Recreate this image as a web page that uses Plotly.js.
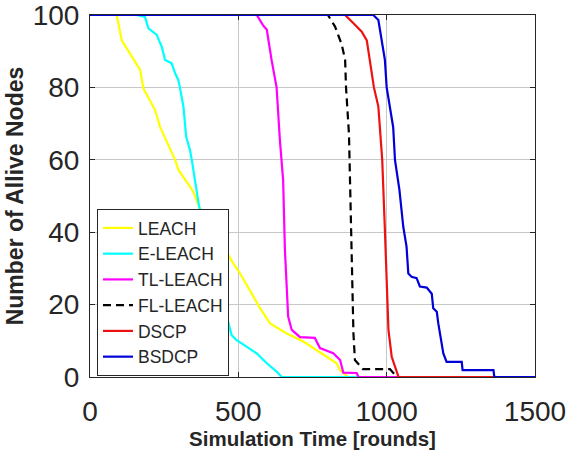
<!DOCTYPE html>
<html>
<head>
<meta charset="utf-8">
<script src="https://cdn.plot.ly/plotly-3.0.1.min.js"></script>
<style>html,body{margin:0;padding:0;background:#fff;}#chart{width:566px;height:458px;}</style>
</head>
<body>
<div id="chart"></div>
<script>
const seriesNames = ["LEACH", "E-LEACH", "TL-LEACH", "FL-LEACH", "DSCP", "BSDCP"];

const leachX = [0, 90, 107, 135, 169, 180, 202, 219, 236, 270, 287, 298, 315, 337, 348, 368, 483, 506, 551, 573, 607, 663, 719, 764, 798, 831, 843, 870, 1500];
const leachY = [100, 100, 93, 89.4, 84.8, 79.7, 76.5, 73.8, 69.1, 62.7, 60, 57.2, 55.3, 52.6, 51.2, 47, 31.4, 28.6, 22.2, 19, 14.8, 12, 9.8, 7.5, 5.6, 3.8, 1.9, 0, 0];

const eleachX = [0, 157, 185, 197, 225, 242, 253, 275, 287, 298, 303, 315, 324, 337, 343, 354, 362, 368, 477, 494, 528, 562, 596, 629, 646, 1500];
const eleachY = [100, 100, 99.5, 96.3, 94.5, 91.2, 87.6, 86.7, 83.9, 82, 80, 74.7, 66.4, 62.7, 60, 54.4, 49.8, 47, 11.6, 10.2, 8.4, 6.5, 3.8, 1.5, 0, 0];

const tlleachX = [0, 562, 583, 596, 612, 629, 640, 651, 657, 668, 680, 708, 758, 775, 820, 843, 854, 899, 905, 1500];
const tlleachY = [100, 100, 97.2, 95.9, 87.6, 80, 65.5, 54.4, 35.1, 16.7, 13, 11, 10.8, 8, 6.6, 4.7, 1.2, 1.1, 0, 0];

const flleachX = [0, 802, 826, 848, 860, 863, 873, 882, 888, 893, 920, 1011, 1035, 1500];
const flleachY = [100, 100, 96.8, 92, 87.6, 80, 67, 36, 12, 4.7, 2.2, 2.2, 0, 0];

const dscpX = [0, 860, 888, 916, 933, 944, 957, 972, 980, 985, 994, 1002, 1006, 1017, 1034, 1040, 1500];
const dscpY = [100, 100, 97.7, 95.4, 93, 87.6, 80, 74.7, 65.5, 60, 40.6, 20, 13, 5.6, 1.5, 0, 0];

const bsdcpX = [0, 955, 972, 983, 994, 1000, 1011, 1022, 1028, 1043, 1056, 1067, 1073, 1084, 1101, 1112, 1135, 1152, 1157, 1169, 1174, 1191, 1202, 1253, 1256, 1360, 1363, 1500];
const bsdcpY = [100, 100, 98.6, 93, 87.6, 80, 73.8, 69, 60, 51.7, 41.5, 36, 28.6, 27.7, 27.3, 25, 24.7, 23, 19, 18, 14.8, 6.5, 4.2, 4.2, 1.9, 1.9, 0, 0];

const xTicks = [0, 500, 1000, 1500];
const yTicks = [0, 20, 40, 60, 80, 100];

const xs = [leachX, eleachX, tlleachX, flleachX, dscpX, bsdcpX];
const ys = [leachY, eleachY, tlleachY, flleachY, dscpY, bsdcpY];
const colors = ["#ffff00", "#00ffff", "#ff00ff", "#000000", "#ee1111", "#0000d8"];
const dashes = ["solid", "solid", "solid", "8px,5px", "solid", "solid"];

const traces = seriesNames.map((n, i) => ({
  type: "scatter", mode: "lines", name: n,
  x: xs[i], y: ys[i],
  line: {color: colors[i], width: 2.2, dash: dashes[i]},
  cliponaxis: false
}));

const fam = "Liberation Sans, Arial, sans-serif";
const tickFont = {family: fam, size: 28, color: "#262626"};
const layout = {
  width: 566, height: 458,
  margin: {l: 90, r: 31, t: 15, b: 81},
  paper_bgcolor: "#fff", plot_bgcolor: "#fff",
  showlegend: true,
  legend: {
    x: 0.0157, y: 0.464, xanchor: "left", yanchor: "top",
    bgcolor: "#fff", bordercolor: "#262626", borderwidth: 1,
    font: {family: fam, size: 17.5, color: "#262626"},
    tracegroupgap: 0
  },
  xaxis: {
    range: [0, 1500], tickvals: xTicks, ticktext: xTicks.map(String),
    ticks: "inside", ticklen: 5, tickcolor: "#262626",
    showline: true, linecolor: "#262626", linewidth: 1, mirror: "ticks",
    showgrid: true, gridcolor: "#c8c8c8", gridwidth: 1, zeroline: false,
    tickfont: tickFont, ticklabelstandoff: 9, ticklabeloverflow: "allow",
    title: {text: "<b>Simulation Time [rounds]</b>", font: {family: fam, size: 20.5, color: "#262626"}, standoff: 5}
  },
  yaxis: {
    range: [0, 100], tickvals: yTicks, ticktext: yTicks.map(String),
    ticks: "inside", ticklen: 5, tickcolor: "#262626",
    showline: true, linecolor: "#262626", linewidth: 1, mirror: "ticks",
    showgrid: true, gridcolor: "#c8c8c8", gridwidth: 1, zeroline: false,
    tickfont: tickFont, ticklabelstandoff: 4, ticklabeloverflow: "allow",
    title: {text: "<b>Number of Allive Nodes</b>", font: {family: fam, size: 23, color: "#262626"}, standoff: 2}
  }
};

Plotly.newPlot("chart", traces, layout, {displayModeBar: false, staticPlot: true});
</script>
</body>
</html>
